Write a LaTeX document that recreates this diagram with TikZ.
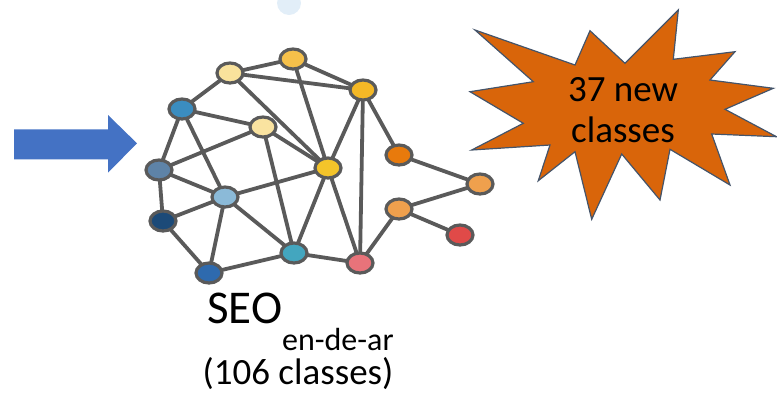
\documentclass[tikz,border=0pt]{standalone}
\usepackage{fontspec}
\setmainfont{Carlito}
\usetikzlibrary{shapes.geometric}
\begin{document}
\begin{tikzpicture}[x=1pt,y=-1pt,
  gnode/.style={ellipse, draw=edgegrey, line width=3.2pt, minimum width=26pt, minimum height=20pt, inner sep=0pt},
  gedge/.style={draw=edgegrey, line width=3.8pt},
  ]
\definecolor{edgegrey}{HTML}{5A5A5A}
\definecolor{arrowblue}{HTML}{4472C4}
\definecolor{starorange}{HTML}{D9650A}
\definecolor{starline}{HTML}{44546A}
\definecolor{topcirc}{HTML}{E2EEF8}
\useasboundingbox (0,0) rectangle (777,392);
\begin{scope}
\clip (0,0) rectangle (777,392);
\fill[topcirc] (289,3) circle (12);
\end{scope}
% arrow
\fill[arrowblue] (14,129.3) -- (108,129.3) -- (108,115) -- (137,143.3) -- (108,172.7) -- (108,159.3) -- (14,159.3) -- cycle;
% graph node positions
\coordinate (n1) at (230,73);
\coordinate (n2) at (293,59);
\coordinate (n3) at (363,90);
\coordinate (n4) at (182,109);
\coordinate (n5) at (263,127);
\coordinate (n6) at (328,168);
\coordinate (n7) at (399,155);
\coordinate (n8) at (480,184);
\coordinate (n9) at (399,209);
\coordinate (n10) at (460,235);
\coordinate (n11) at (159,170);
\coordinate (n12) at (225,197);
\coordinate (n13) at (163,221);
\coordinate (n14) at (209,273);
\coordinate (n15) at (294,253);
\coordinate (n16) at (360,263);
\foreach \a/\b in {n1/n2,n1/n3,n1/n4,n1/n6,n2/n3,n2/n6,n3/n6,n3/n16,n3/n7,n4/n5,n4/n11,n4/n12,n5/n11,n5/n6,n5/n15,n6/n12,n6/n15,n6/n16,n7/n8,n8/n9,n9/n10,n9/n16,n11/n12,n11/n13,n12/n13,n12/n14,n12/n15,n13/n14,n14/n15,n15/n16}
  \draw[gedge] (\a) -- (\b);
\node[gnode, fill={rgb,255:red,249;green,226;blue,156}] (v1) at (n1) {};
\node[gnode, fill={rgb,255:red,245;green,192;blue,74}] (v2) at (n2) {};
\node[gnode, fill={rgb,255:red,244;green,184;blue,38}] (v3) at (n3) {};
\node[gnode, fill={rgb,255:red,59;green,141;blue,192}] (v4) at (n4) {};
\node[gnode, fill={rgb,255:red,250;green,227;blue,160}] (v5) at (n5) {};
\node[gnode, fill={rgb,255:red,244;green,196;blue,42}] (v6) at (n6) {};
\node[gnode, fill={rgb,255:red,232;green,122;blue,12}] (v7) at (n7) {};
\node[gnode, fill={rgb,255:red,239;green,160;blue,77}] (v8) at (n8) {};
\node[gnode, fill={rgb,255:red,239;green,160;blue,77}] (v9) at (n9) {};
\node[gnode, fill={rgb,255:red,224;green,74;blue,72}] (v10) at (n10) {};
\node[gnode, fill={rgb,255:red,94;green,131;blue,167}] (v11) at (n11) {};
\node[gnode, fill={rgb,255:red,139;green,186;blue,216}] (v12) at (n12) {};
\node[gnode, fill={rgb,255:red,28;green,74;blue,120}] (v13) at (n13) {};
\node[gnode, fill={rgb,255:red,46;green,106;blue,174}] (v14) at (n14) {};
\node[gnode, fill={rgb,255:red,67;green,166;blue,191}] (v15) at (n15) {};
\node[gnode, fill={rgb,255:red,232;green,115;blue,122}] (v16) at (n16) {};
% star
\filldraw[fill=starorange, draw=starline, line width=1.2pt, line join=miter]
 (475,30) -- (575,65) -- (590,30.7) -- (625,63.3) -- (678.3,10) -- (673.3,59.3)
 -- (735,51.7) -- (710,80) -- (773.3,88.3) -- (725,109.3) -- (776.5,136.7)
 -- (711.7,134) -- (730,185) -- (670,149.3) -- (660,200) -- (621.7,154)
 -- (591.7,219.3) -- (575,151.7) -- (538.3,180.7) -- (550,145) -- (471.7,150)
 -- (523.3,123.3) -- (470,91.7) -- (533.3,81.7) -- cycle;
\node[anchor=base, align=center, inner sep=0pt, font=\fontsize{37}{41}\selectfont] (startext) at (623,142) {37 new\\classes};
% label
\node[anchor=base west, inner sep=0pt] (seo) at (207,323) {\fontsize{47}{54}\selectfont SEO\raisebox{-27pt}{\fontsize{32}{37}\selectfont en-de-ar}};
\node[anchor=base, inner sep=0pt, font=\fontsize{37}{42}\selectfont] (cls) at (298,384) {(106 classes)};
\end{tikzpicture}
\end{document}
